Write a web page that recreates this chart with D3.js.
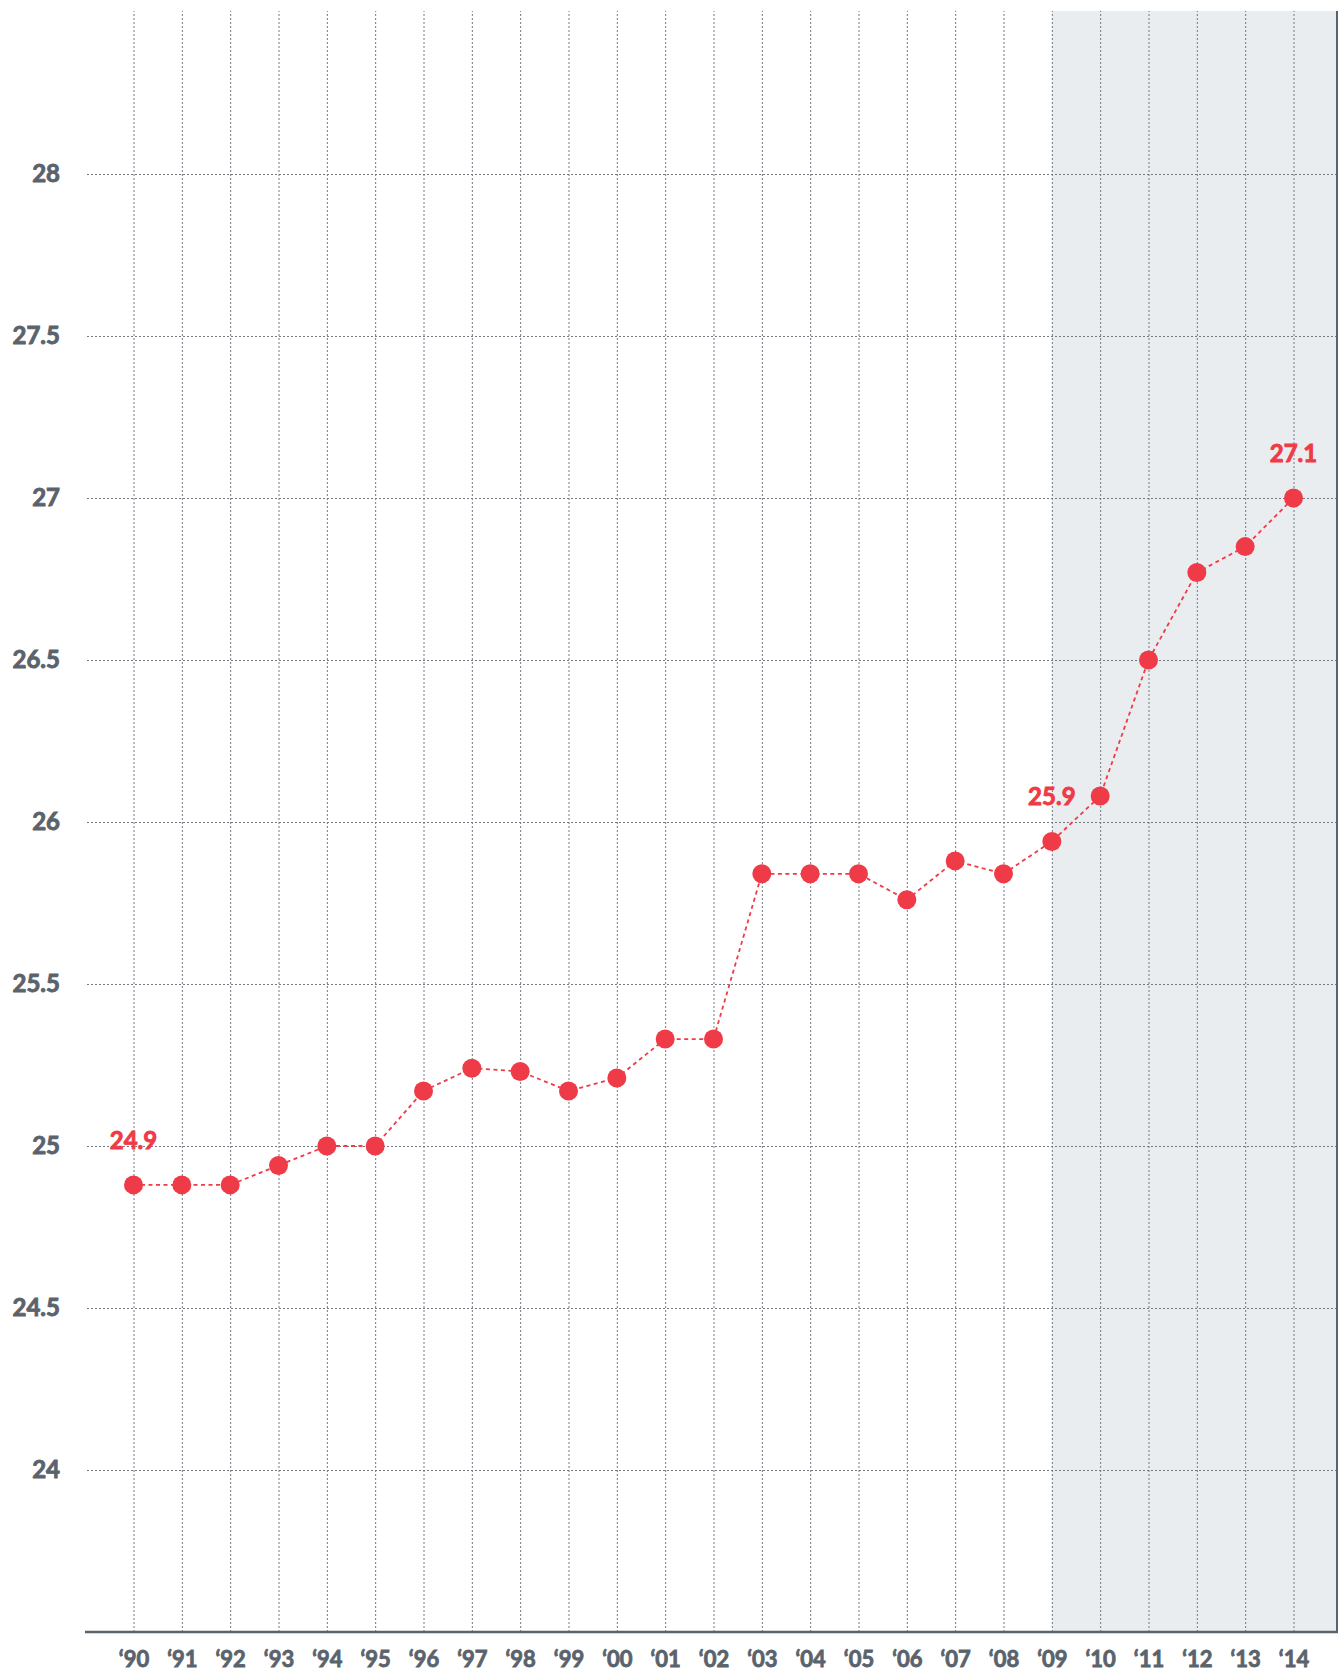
<!DOCTYPE html>
<meta charset="utf-8">
<style>
body { margin: 0; background: #fff; }
text { font-family: Lato, "Open Sans", sans-serif; font-weight: 700; }
</style>
<svg width="1340" height="1673"></svg>
<script src="https://d3js.org/d3.v7.min.js"></script>
<script>
var years = [1990, 1991, 1992, 1993, 1994, 1995, 1996, 1997, 1998, 1999, 2000, 2001, 2002,
             2003, 2004, 2005, 2006, 2007, 2008, 2009, 2010, 2011, 2012, 2013, 2014];
var values = [24.88, 24.88, 24.88, 24.94, 25.0, 25.0, 25.17, 25.24, 25.23, 25.17, 25.21, 25.33, 25.33,
              25.84, 25.84, 25.84, 25.76, 25.88, 25.84, 25.94, 26.08, 26.5, 26.77, 26.85, 27.0];
var xTickLabels = ["‘90", "‘91", "‘92", "‘93", "‘94", "‘95", "‘96", "‘97", "‘98", "‘99", "‘00", "‘01", "‘02",
                   "‘03", "‘04", "‘05", "‘06", "‘07", "‘08", "‘09", "‘10", "‘11", "‘12", "‘13", "‘14"];
var yTicks = [24, 24.5, 25, 25.5, 26, 26.5, 27, 27.5, 28];
var labelYears = [1990, 2009, 2014];
var labelTexts = ["24.9", "25.9", "27.1"];
var shadeFrom = 2009;

var red = "#ef3a47",
    grey = "#5a636c";

var svg = d3.select("svg"),
    margin = {top: 11, right: 2, bottom: 41, left: 85},
    width = +svg.attr("width") - margin.left - margin.right,
    height = +svg.attr("height") - margin.top - margin.bottom,
    g = svg.append("g").attr("transform", "translate(" + margin.left + "," + margin.top + ")");

var x = d3.scaleLinear()
    .domain([1990, 2014])
    .range([48.5, 1208.5]);

var y = d3.scaleLinear()
    .domain([23.5, 28.5])
    .range([height, 1]);

var data = years.map(function(d, i) { return {year: d, value: values[i]}; });

// shaded forecast area
g.append("rect")
    .attr("x", x(shadeFrom))
    .attr("y", 0)
    .attr("width", width - x(shadeFrom))
    .attr("height", height)
    .attr("fill", "#e9edf0");

// grid
var hGrid = g.append("g")
    .attr("transform", "translate(2,0)")
    .call(d3.axisLeft(y).tickValues(yTicks).tickSize(-(width - 2)).tickFormat(""));
var vGrid = g.append("g")
    .attr("transform", "translate(0," + height + ")")
    .call(d3.axisBottom(x).tickValues(years).tickSize(-height).tickFormat(""));
[hGrid, vGrid].forEach(function(s) {
  s.select(".domain").remove();
  s.selectAll("line")
      .attr("stroke", "#737a81")
      .attr("stroke-width", 1)
      .attr("stroke-dasharray", "2,2");
});

// y labels
var yAxis = g.append("g")
    .call(d3.axisLeft(y).tickValues(yTicks).tickSize(0).tickPadding(25)
      .tickFormat(function(d) { return d; }));
yAxis.select(".domain").remove();
yAxis.selectAll("text")
    .attr("fill", grey)
    .attr("stroke", grey)
    .attr("stroke-width", 0.9)
    .attr("font-size", 24)
    .attr("font-family", "Lato, sans-serif");

// x labels
var xAxis = g.append("g")
    .attr("transform", "translate(0," + height + ")")
    .call(d3.axisBottom(x).tickValues(years).tickSize(0).tickPadding(19)
      .tickFormat(function(d, i) { return xTickLabels[i]; }));
xAxis.select(".domain").remove();
xAxis.selectAll("text")
    .attr("fill", grey)
    .attr("stroke", grey)
    .attr("stroke-width", 0.8)
    .attr("font-size", 22)
    .attr("font-family", "Lato, sans-serif");

// frame lines
g.append("line")
    .attr("x1", 0).attr("x2", width)
    .attr("y1", height).attr("y2", height)
    .attr("stroke", grey)
    .attr("stroke-width", 2.5);
g.append("line")
    .attr("x1", width - 1).attr("x2", width - 1)
    .attr("y1", 0).attr("y2", height)
    .attr("stroke", grey)
    .attr("stroke-width", 2);

// series
var line = d3.line()
    .x(function(d) { return x(d.year); })
    .y(function(d) { return y(d.value); });

g.append("path")
    .datum(data)
    .attr("fill", "none")
    .attr("stroke", red)
    .attr("stroke-width", 1.8)
    .attr("stroke-dasharray", "4,3.5")
    .attr("d", line);

g.append("g")
  .selectAll("circle")
  .data(data)
  .enter().append("circle")
    .attr("cx", function(d) { return x(d.year); })
    .attr("cy", function(d) { return y(d.value); })
    .attr("r", 9.5)
    .attr("fill", red);

g.append("g")
  .selectAll("text")
  .data(labelYears)
  .enter().append("text")
    .attr("x", function(d) { return x(d); })
    .attr("y", function(d) { return y(values[years.indexOf(d)]) - 36; })
    .attr("text-anchor", "middle")
    .attr("fill", red)
    .attr("stroke", red)
    .attr("stroke-width", 0.9)
    .attr("font-size", 24)
    .text(function(d, i) { return labelTexts[i]; });
</script>
